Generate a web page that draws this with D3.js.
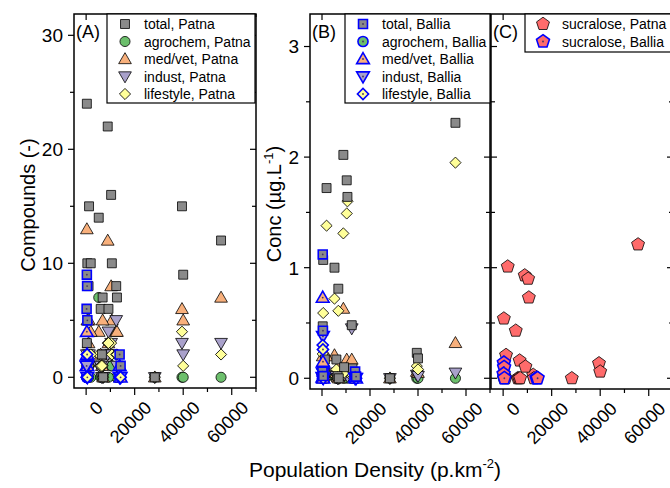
<!DOCTYPE html>
<html>
<head>
<meta charset="utf-8">
<script src="https://cdn.jsdelivr.net/npm/d3@7"></script>
<style>
  body { margin: 0; background: #fff; }
  svg { font-family: "Liberation Sans", Arial, sans-serif; }
</style>
</head>
<body>
<svg id="chart" width="670" height="488"></svg>
<script>
// ---- data ----

// Patna sites: population density (p/km2)
const patnaDensity = [300, 8900, 10300, 1200, 39500, 5200, 55600, 500, 1900, 10600, 40000,
                      12400, 1000, 6800, 12700, 6000, 9200, 300, 6500, 7000, 28300]
// number of compounds detected
const patnaTotalN = [24, 22, 16, 15, 15, 14, 12, 10, 10, 10, 9, 8, 8, 7, 7, 6, 6, 3, 2, 0, 0]
const patnaAgroN  = [1, 2, 1, 1, 0, 7, 0, 0, 0, 1, 0, 0, 0, 1, 0, 0, 0, 0, 0, 0, 0]
const patnaMedN   = [13, 12, 8, 5, 6, 4, 7, 5, 4, 5, 5, 4, 3, 5, 4, 2, 3, 1, 1, 0, 0]
const patnaIndN   = [2, 2, 3, 2, 3, 1, 3, 1, 1, 2, 2, 5, 1, 1, 1, 1, 4, 1, 0, 0, 0]
const patnaLifeN  = [2, 3, 3, 1, 4, 2, 2, 2, 2, 2, 1, 2, 1, 1, 2, 1, 3, 1, 1, 0, 0]
// concentrations (ug/L)
const patnaTotalC = [0.47, 2.02, 1.79, 0.17, 0.23, 1.00, 2.31, 1.07, 1.72, 1.64, 0.18,
                     0.48, 0.07, 0.81, 0.09, 0.17, 0.10, 0.02, 0.02, 0, 0]
const patnaAgroC  = [0.01, 0.02, 0.01, 0, 0, 0.02, 0, 0, 0.01, 0, 0, 0, 0, 0, 0, 0, 0, 0, 0, 0, 0]
const patnaMedC   = [0.20, 0.63, 0.17, 0.10, 0.06, 0.21, 0.32, 0.15, 0.20, 0.05, 0.05,
                     0.17, 0.03, 0.10, 0.05, 0.05, 0.02, 0, 0.01, 0, 0]
const patnaIndC   = [0.05, 0.05, 0.08, 0.02, 0.03, 0.05, 0.05, 0.05, 0.03, 0.02, 0.02,
                     0.45, 0.01, 0.02, 0.01, 0.02, 0.03, 0, 0, 0, 0]
const patnaLifeC  = [0.22, 1.31, 1.49, 0.05, 0.11, 0.72, 1.95, 0.59, 1.38, 1.60, 0.08,
                     0.02, 0.02, 0.61, 0.03, 0.08, 0.05, 0.01, 0.01, 0, 0]
const patnaSucralose = [0.54, 0.93, 0.90, 0.21, 0.135, 0.43, 1.21, 0.02, 1.01, 0.73, 0.06,
                        0.03, 0, 0.16, 0, 0, 0.105, 0, 0, 0, 0]

// Ballia sites
const balliaDensity = [300, 400, 200, 500, 13800, 14200]
const balliaTotalN = [9, 8, 6, 5, 2, 1]
const balliaAgroN  = [0, 0, 0, 0, 0, 0]
const balliaMedN   = [4, 2, 1, 1, 1, 0]
const balliaIndN   = [1, 1, 1, 0, 0, 0]
const balliaLifeN  = [2, 2, 0, 0, 0, 0]
const balliaTotalC = [1.12, 0.43, 0.06, 0.02, 0.06, 0.015]
const balliaAgroC  = [0.02, 0, 0, 0, 0, 0]
const balliaMedC   = [0.73, 0.15, 0.01, 0, 0.01, 0]
const balliaIndC   = [0.05, 0.38, 0.01, 0, 0, 0]
const balliaLifeC  = [0.30, 0.26, 0.02, 0, 0.01, 0]
const balliaSucralose = [0.14, 0.10, 0.04, 0, 0, 0]

const xTicks = [0, 20000, 40000, 60000]

// ---- styles ----

const BLUE = '#0000ff'
const pentagon = {
  draw(ctx, size) {
    let r = Math.sqrt(size / 2.378)
    for (let i = 0; i < 5; i++) {
      let a = -Math.PI / 2 + i * 2 * Math.PI / 5
      i ? ctx.lineTo(r * Math.cos(a), r * Math.sin(a)) : ctx.moveTo(r * Math.cos(a), r * Math.sin(a))
    }
    ctx.closePath()
  }
}
const KINDS = {
  total:  { sym: d3.symbolSquare,   size: 80, rot: 0,   fill: '#8a8a8a' },
  agro:   { sym: d3.symbolCircle,   size: 80, rot: 0,   fill: '#6cbf6c' },
  med:    { sym: d3.symbolTriangle, size: 70, rot: 0,   fill: '#f8b07c' },
  ind:    { sym: d3.symbolTriangle, size: 70, rot: 180, fill: '#a9a1cb' },
  life:   { sym: d3.symbolSquare,   size: 62, rot: 45,  fill: '#ffff99' },
  sucra:  { sym: pentagon,          size: 110, rot: 0,  fill: '#ff6b6b' }
}

const svg = d3.select('#chart')
const xDomain = [-5000, 70000]

function marker(g, kind, x, y, ballia) {
  let k = KINDS[kind]
  let yo = kind === 'med' ? 1 : kind === 'ind' ? -1 : 0
  g.append('path')
    .attr('d', d3.symbol(k.sym, k.size)())
    .attr('transform', 'translate(' + x + ',' + (y + yo) + ') rotate(' + k.rot + ')')
    .attr('fill', k.fill)
    .attr('stroke', ballia ? BLUE : '#000')
    .attr('stroke-width', ballia ? 1.6 : 0.8)
  if (ballia) {
    g.append('circle').attr('cx', x).attr('cy', y).attr('r', 0.9).attr('fill', '#443366')
  }
}

function panel(opt) {
  let x = d3.scaleLinear().domain(xDomain).range([opt.left, opt.right])
  let y = d3.scaleLinear().domain(opt.yDomain).range([opt.bottom, opt.top])
  let g = svg.append('g')

  // frame
  g.append('rect')
    .attr('x', opt.left).attr('y', opt.top)
    .attr('width', opt.right - opt.left).attr('height', opt.bottom - opt.top)
    .attr('fill', 'none').attr('stroke', '#000').attr('stroke-width', 1.5)

  let ax = g.append('g').attr('stroke', '#000').attr('stroke-width', 1.2)
  d3.range(0, 70001, 10000).forEach((t) => {
    let major = t % 20000 === 0
    let px = x(t)
    ax.append('line').attr('x1', px).attr('x2', px)
      .attr('y1', opt.bottom).attr('y2', opt.bottom + (major ? 7 : 4))
    ax.append('line').attr('x1', px).attr('x2', px)
      .attr('y1', opt.top).attr('y2', opt.top + (major ? 6 : 3))
  })
  let yTicks = d3.range(0, opt.yDomain[1] + 1e-9, opt.minor)
  yTicks.forEach((t) => {
    let major = Math.abs(t / opt.major - Math.round(t / opt.major)) < 1e-6
    let py = y(t)
    let len = major ? 6 : 4
    if (opt.leftOut) {
      ax.append('line').attr('x1', opt.left - len).attr('x2', opt.left).attr('y1', py).attr('y2', py)
    } else {
      ax.append('line').attr('x1', opt.left).attr('x2', opt.left + len).attr('y1', py).attr('y2', py)
    }
    ax.append('line').attr('x1', opt.right - len).attr('x2', opt.right).attr('y1', py).attr('y2', py)
  })

  // tick labels
  xTicks.forEach((t) => {
    g.append('text')
      .attr('transform', 'translate(' + (x(t) + 9) + ',' + (opt.bottom + 12) + ') rotate(-45)')
      .attr('text-anchor', 'end').attr('dy', '0.7em')
      .attr('font-size', 18).text(d3.format('d')(t))
  })
  if (opt.yLabels) {
    yTicks.filter((t) => Math.abs(t / opt.major - Math.round(t / opt.major)) < 1e-6)
      .forEach((t) => {
        g.append('text').attr('x', opt.left - 11).attr('y', y(t)).attr('dy', '0.36em')
          .attr('text-anchor', 'end').attr('font-size', 19).text(d3.format('d')(t))
      })
  }

  g.append('text').attr('x', opt.left + 2).attr('y', opt.top + 24)
    .attr('font-size', 18).text(opt.tag)

  let marks = g.append('g')
  opt.series.forEach((s) => {
    s.values.forEach((v, i) => marker(marks, s.kind, x(s.density[i]), y(v), s.ballia))
  })

  // legend
  let lg = g.append('g')
  lg.append('rect').attr('x', opt.legend.x).attr('y', opt.top)
    .attr('width', opt.legend.w).attr('height', opt.legend.h)
    .attr('fill', '#fff').attr('stroke', '#000').attr('stroke-width', 1.2)
  opt.legend.items.forEach((it, i) => {
    let cy = opt.top + 10 + i * 17.5
    marker(lg, it.kind, opt.legend.x + 18, cy, it.ballia)
    lg.append('text').attr('x', opt.legend.x + 37).attr('y', cy).attr('dy', '0.36em')
      .attr('font-size', 14).text(it.label)
  })
}

const patnaN = [['total', patnaTotalN], ['agro', patnaAgroN], ['med', patnaMedN], ['ind', patnaIndN], ['life', patnaLifeN]]
const balliaN = [['total', balliaTotalN], ['agro', balliaAgroN], ['med', balliaMedN], ['ind', balliaIndN], ['life', balliaLifeN]]
const patnaC = [['total', patnaTotalC], ['agro', patnaAgroC], ['med', patnaMedC], ['ind', patnaIndC], ['life', patnaLifeC]]
const balliaC = [['total', balliaTotalC], ['agro', balliaAgroC], ['med', balliaMedC], ['ind', balliaIndC], ['life', balliaLifeC]]
const drawOrder = ['agro', 'med', 'ind', 'life', 'total']

function seriesOf(list, density, ballia) {
  return drawOrder.map((k) => ({ kind: k, values: list.find((d) => d[0] === k)[1], density: density, ballia: ballia }))
}
const legendNames = ['total', 'agrochem', 'med/vet', 'indust', 'lifestyle']
const legendKinds = ['total', 'agro', 'med', 'ind', 'life']

panel({
  left: 74, right: 256, top: 14, bottom: 388, yDomain: [-0.94, 31.87], major: 10, minor: 5,
  leftOut: true, yLabels: true, tag: '(A)',
  series: seriesOf(patnaN, patnaDensity, false).concat(seriesOf(balliaN, balliaDensity, true)),
  legend: { x: 107, w: 148, h: 89, items: legendKinds.map((k, i) => ({ kind: k, label: legendNames[i] + ', Patna' })) }
})
panel({
  left: 310, right: 490, top: 14, bottom: 389, yDomain: [-0.097, 3.294], major: 1, minor: 0.5,
  leftOut: true, yLabels: true, tag: '(B)',
  series: seriesOf(patnaC, patnaDensity, false).concat(seriesOf(balliaC, balliaDensity, true)),
  legend: { x: 345, w: 145, h: 89, items: legendKinds.map((k, i) => ({ kind: k, label: legendNames[i] + ', Ballia', ballia: true })) }
})
panel({
  left: 491, right: 673, top: 14, bottom: 389, yDomain: [-0.097, 3.294], major: 1, minor: 0.5,
  leftOut: false, yLabels: false, tag: '(C)',
  series: [{ kind: 'sucra', values: patnaSucralose, density: patnaDensity, ballia: false },
           { kind: 'sucra', values: balliaSucralose, density: balliaDensity, ballia: true }],
  legend: { x: 525, w: 160, h: 38, items: [{ kind: 'sucra', label: 'sucralose, Patna' }, { kind: 'sucra', label: 'sucralose, Ballia', ballia: true }] }
})

// axis titles
svg.append('text').attr('transform', 'translate(35,205) rotate(-90)')
  .attr('text-anchor', 'middle').attr('font-size', 20).text('Compounds (-)')
const conc = svg.append('text').attr('transform', 'translate(281,204) rotate(-90)')
  .attr('text-anchor', 'middle').attr('font-size', 20)
conc.append('tspan').text('Conc (µg.L')
conc.append('tspan').attr('font-size', 13).attr('dy', -8).text('-1')
conc.append('tspan').attr('dy', 8).text(')')
const xt = svg.append('text').attr('x', 375).attr('y', 477)
  .attr('text-anchor', 'middle').attr('font-size', 21)
xt.append('tspan').text('Population Density (p.km')
xt.append('tspan').attr('font-size', 13).attr('dy', -9).text('-2')
xt.append('tspan').attr('dy', 9).text(')')
</script>
</body>
</html>
